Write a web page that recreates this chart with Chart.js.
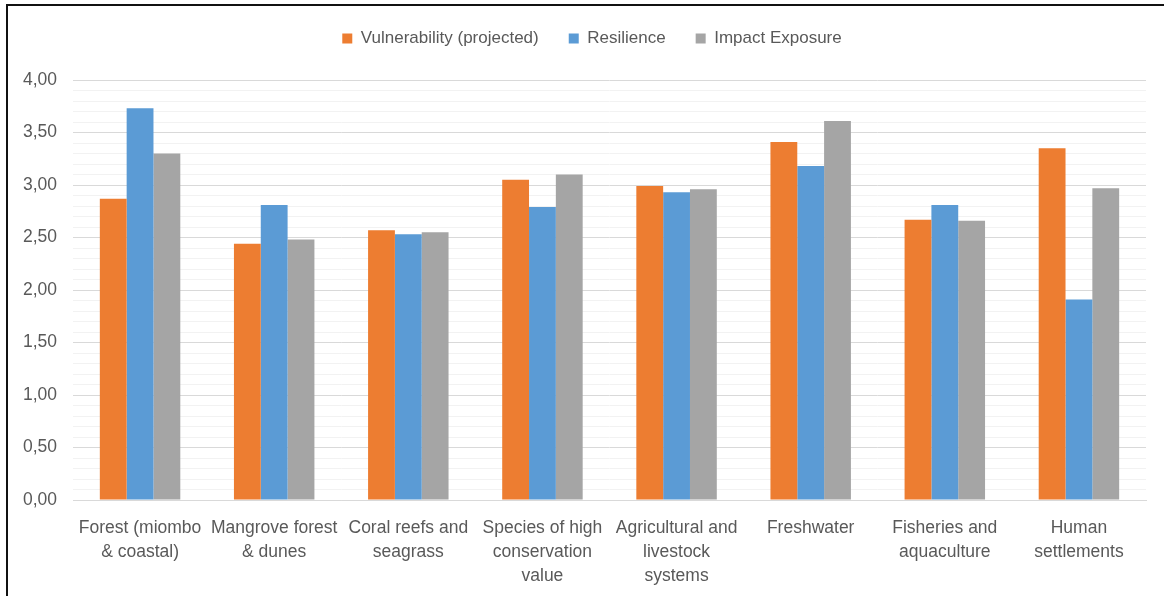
<!DOCTYPE html>
<html>
<head>
<meta charset="utf-8">
<script src="https://cdn.jsdelivr.net/npm/chart.js@4/dist/chart.umd.min.js"></script>
<style>
  html, body { margin: 0; padding: 0; background: #fff; }
  #wrap { position: relative; width: 1164px; height: 596px; overflow: hidden; }
  #frame { position: absolute; left: 6px; top: 4px; width: 1200px; height: 700px;
           border-top: 2px solid #111; border-left: 2px solid #111; box-sizing: border-box; pointer-events: none; }
  canvas { position: absolute; left: 0; top: 0; }
</style>
</head>
<body>
<div id="wrap">
  <canvas id="chart" width="1164" height="596"></canvas>
  <div id="frame"></div>
</div>
<script>
// categorieen en waarden
const categories = [
  ["Forest (miombo", "& coastal)"],
  ["Mangrove forest", "& dunes"],
  ["Coral reefs and", "seagrass"],
  ["Species of high", "conservation", "value"],
  ["Agricultural and", "livestock", "systems"],
  ["Freshwater"],
  ["Fisheries and", "aquaculture"],
  ["Human", "settlements"]
];
const vulnerability = [2.87, 2.44, 2.57, 3.05, 2.99, 3.41, 2.67, 3.35];
const resilience    = [3.73, 2.81, 2.53, 2.79, 2.93, 3.18, 2.81, 1.91];
const impact        = [3.30, 2.48, 2.55, 3.10, 2.96, 3.61, 2.66, 2.97];
const seriesNames = ["Vulnerability (projected)", "Resilience", "Impact Exposure"];

const textColor = '#595959';
const fontFamily = '"Liberation Sans", Arial, sans-serif';

const isMajor = v => Math.round(v * 10) % 5 === 0;

// extra ruimte onder de legenda en legenda iets naar rechts
const legendSpace = {
  id: 'legendSpace',
  beforeInit(chart) {
    const origFit = chart.legend.fit;
    chart.legend.fit = function () {
      origFit.bind(chart.legend)();
      this.height += 23;
    };
  },
  afterLayout(chart) {
    chart.legend.left += 14;
    chart.legend.right += 14;
  }
};

new Chart(document.getElementById('chart').getContext('2d'), {
  type: 'bar',
  data: {
    labels: categories,
    datasets: [
      { label: seriesNames[0], data: vulnerability, backgroundColor: '#ED7D31' },
      { label: seriesNames[1], data: resilience, backgroundColor: '#5B9BD5' },
      { label: seriesNames[2], data: impact, backgroundColor: '#A5A5A5' }
    ]
  },
  plugins: [legendSpace],
  options: {
    responsive: false,
    animation: false,
    datasets: { bar: { categoryPercentage: 0.6, barPercentage: 1.0 } },
    layout: { padding: { left: 10, right: 18, top: 0, bottom: 0 } },
    plugins: {
      tooltip: { enabled: false },
      legend: {
        position: 'top',
        labels: {
          color: textColor,
          font: { family: fontFamily, size: 17 },
          boxWidth: 10,
          boxHeight: 10,
          padding: 30
        }
      }
    },
    scales: {
      x: {
        grid: { display: false },
        border: { color: '#d9d9d9' },
        ticks: {
          color: textColor,
          font: { family: fontFamily, size: 17.5, lineHeight: '24px' },
          maxRotation: 0,
          autoSkip: false,
          padding: 8
        },
        afterFit: s => { s.height = 96; }
      },
      y: {
        min: 0,
        max: 4,
        grid: {
          drawTicks: false,
          color: ctx => isMajor(ctx.tick.value) ? '#d9d9d9' : '#f2f2f2'
        },
        border: { display: false },
        ticks: {
          stepSize: 0.1,
          autoSkip: false,
          color: textColor,
          font: { family: fontFamily, size: 17.5 },
          padding: 16,
          callback: v => isMajor(v) ? v.toFixed(2).replace('.', ',') : ''
        },
        afterFit: s => { s.width = 63; }
      }
    }
  }
});
</script>
</body>
</html>
